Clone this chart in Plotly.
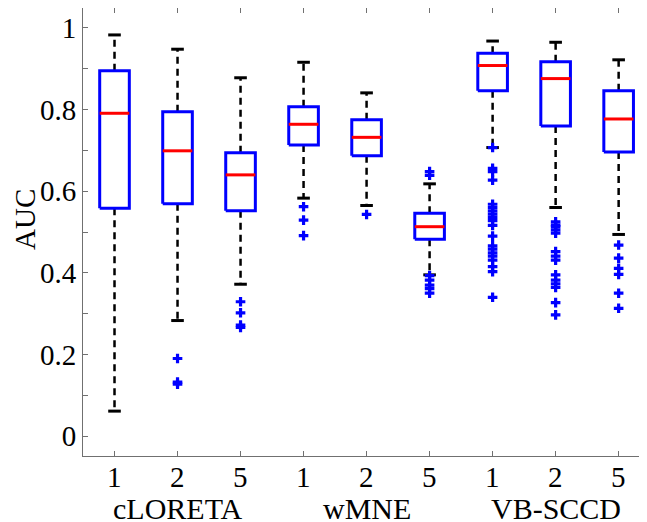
import plotly.graph_objects as go

# ---- data ----
positions = [1, 2, 3, 4, 5, 6, 7, 8, 9]
tick_labels = ["1", "2", "5", "1", "2", "5", "1", "2", "5"]
groups = ["cLORETA", "wMNE", "VB-SCCD"]
group_pos = [2, 5, 8]

upper_whisker = [0.983, 0.948, 0.878, 0.916, 0.841, 0.618, 0.968, 0.965, 0.922]
q3 =            [0.895, 0.795, 0.694, 0.807, 0.775, 0.546, 0.938, 0.917, 0.846]
median =        [0.791, 0.699, 0.640, 0.764, 0.732, 0.513, 0.908, 0.876, 0.777]
q1 =            [0.558, 0.569, 0.552, 0.713, 0.687, 0.482, 0.846, 0.760, 0.696]
lower_whisker = [0.061, 0.283, 0.372, 0.583, 0.565, 0.395, 0.707, 0.560, 0.494]

outliers = [
    [],
    [0.190, 0.132, 0.127],
    [0.329, 0.302, 0.272, 0.266],
    [0.562, 0.529, 0.491],
    [0.543],
    [0.648, 0.639, 0.393, 0.382, 0.370, 0.361, 0.350],
    [0.707, 0.656, 0.648, 0.627, 0.568, 0.560, 0.552, 0.544, 0.536, 0.528, 0.516,
     0.490, 0.466, 0.458, 0.449, 0.441, 0.431, 0.415, 0.403, 0.340],
    [0.525, 0.517, 0.513, 0.505, 0.497, 0.452, 0.441, 0.431,
     0.395, 0.382, 0.373, 0.364, 0.327, 0.297],
    [0.468, 0.436, 0.411, 0.396, 0.350, 0.313],
]

y_tickvals = [0, 0.1, 0.2, 0.3, 0.4, 0.5, 0.6, 0.7, 0.8, 0.9, 1.0]
y_ticktext = ["0", "", "0.2", "", "0.4", "", "0.6", "", "0.8", "", "1"]

# ---- style ----
BOX_HW = 0.235
CAP_HW = 0.1
FONT = "Liberation Serif, Times New Roman, serif"
AXC = "#707070"
PLOT_W, PLOT_H = 564, 448
ML, MT, MB = 75, 0, 66

wx, wy, cx, cy, bx, by, mx, my, ox, oy = ([] for _ in range(10))
for i, p in enumerate(positions):
    wx += [p, p, None, p, p, None]
    wy += [q3[i], upper_whisker[i], None, q1[i], lower_whisker[i], None]
    cx += [p - CAP_HW, p + CAP_HW, None, p - CAP_HW, p + CAP_HW, None]
    cy += [upper_whisker[i], upper_whisker[i], None, lower_whisker[i], lower_whisker[i], None]
    bx += [p - BOX_HW, p + BOX_HW, p + BOX_HW, p - BOX_HW, p - BOX_HW, None]
    by += [q1[i], q1[i], q3[i], q3[i], q1[i], None]
    mx += [p - BOX_HW, p + BOX_HW, None]
    my += [median[i], median[i], None]
    ox += [p] * len(outliers[i])
    oy += outliers[i]

fig = go.Figure()
fig.add_trace(go.Scatter(x=wx, y=wy, mode="lines",
                         line=dict(color="black", width=2.5, dash="7px,5px"),
                         hoverinfo="skip", showlegend=False))
fig.add_trace(go.Scatter(x=cx, y=cy, mode="lines",
                         line=dict(color="black", width=3),
                         hoverinfo="skip", showlegend=False))
fig.add_trace(go.Scatter(x=bx, y=by, mode="lines",
                         line=dict(color="#0000ff", width=3),
                         hoverinfo="skip", showlegend=False))
fig.add_trace(go.Scatter(x=mx, y=my, mode="lines",
                         line=dict(color="#ff0000", width=3),
                         hoverinfo="skip", showlegend=False))
fig.add_trace(go.Scatter(x=ox, y=oy, mode="markers",
                         marker=dict(symbol="cross", size=8, color="#0000ff",
                                     line=dict(width=0)),
                         showlegend=False))

# x tick labels
for t, p in zip(tick_labels, positions):
    fig.add_annotation(x=p, xref="x", y=-21 / PLOT_H, yref="paper",
                       text=t, showarrow=False, xanchor="center", yanchor="middle",
                       font=dict(family=FONT, size=29, color="black"))
# group labels
for g, gp in zip(groups, group_pos):
    fig.add_annotation(x=gp, xref="x", y=-52 / PLOT_H, yref="paper",
                       text=g, showarrow=False, xanchor="center", yanchor="middle",
                       font=dict(family=FONT, size=30, color="black"))

fig.add_annotation(x=(25 - 83) / PLOT_W, xref="paper", y=0.5 + 12 / PLOT_H, yref="paper",
                   text="AUC", textangle=-90, showarrow=False,
                   xanchor="center", yanchor="middle",
                   font=dict(family=FONT, size=29, color="black"))

fig.update_layout(
    width=ML + PLOT_W, height=MT + PLOT_H + MB,
    margin=dict(l=ML, r=0, t=MT, b=MB, autoexpand=False),
    plot_bgcolor="white", paper_bgcolor="white",
    font=dict(family=FONT, size=29, color="black"),
    xaxis=dict(range=[0.5, 9.45], tickvals=positions, showticklabels=False,
               ticks="inside", ticklen=5, tickcolor=AXC, tickwidth=1,
               showline=True, linecolor=AXC, linewidth=1, mirror="ticks",
               showgrid=False, zeroline=False),
    yaxis=dict(range=[-0.049, 1.049], tickvals=y_tickvals, ticktext=y_ticktext,
               ticks="inside", ticklen=5, tickcolor=AXC, tickwidth=1,
               showline=True, linecolor=AXC, linewidth=1, mirror="ticks",
               showgrid=False, zeroline=False,
               tickfont=dict(family=FONT, size=29, color="black")),
)

fig.write_html("out.html")
